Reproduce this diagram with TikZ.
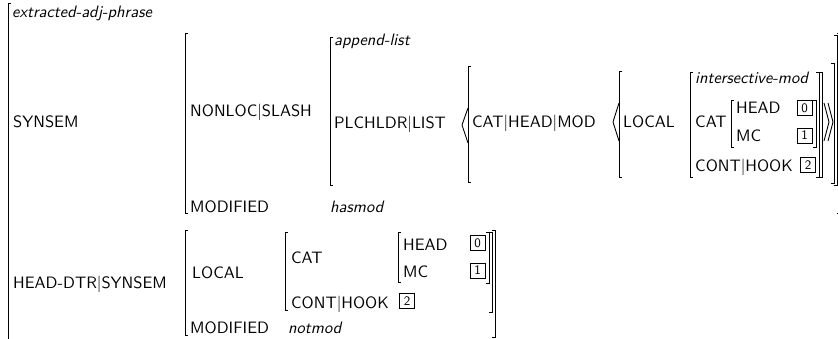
\documentclass[tikz,border=0pt]{standalone}
\usepackage{fontspec}
\newfontfamily\avmfont{lmsans10-regular.otf}[ItalicFont=lmsans10-oblique.otf]
\newcommand\avmL[3]{\draw[brk] (#1+3,#2) -- (#1,#2) -- (#1,#3) -- (#1+3,#3);}
\newcommand\avmR[3]{\draw[brk] (#1-3,#2) -- (#1,#2) -- (#1,#3) -- (#1-3,#3);}
\newcommand\avmLA[4]{\draw[brk] (#1+6,#2) -- (#1,#3) -- (#1+6,#4);}
\newcommand\avmRA[4]{\draw[brk] (#1-5,#2) -- (#1,#3) -- (#1-5,#4);}
\begin{document}
\begin{tikzpicture}[x=1pt,y=-1pt,
  lbl/.style={anchor=base west,inner sep=0pt,font=\avmfont\fontsize{16.5}{20}\selectfont},
  typ/.style={anchor=base west,inner sep=0pt,font=\avmfont\fontsize{16.5}{20}\selectfont\itshape},
  tagbox/.style={draw,line width=0.8pt,minimum size=15pt,inner sep=0pt,font=\avmfont\fontsize{13}{13}\selectfont},
  brk/.style={line width=0.9pt}]
\useasboundingbox (0,0) rectangle (838,339);
% ---------- labels (upper part) ----------
\node[typ] (ead) at (12,18) {extracted-adj-phrase};
\node[lbl] (synsem) at (13,128) {SYNSEM};
\node[lbl] (nonloc) at (190,117) {NONLOC\textbar SLASH};
\node[lbl] (mod1) at (190,213) {MODIFIED};
\node[typ] (hasmod) at (330,213) {hasmod};
\node[typ] (applist) at (334,46) {append-list};
\node[lbl] (plch) at (334,129) {PLCHLDR\textbar LIST};
\node[lbl] (chm) at (472,128) {CAT\textbar HEAD\textbar MOD};
\node[lbl] (loc1) at (623,128) {LOCAL};
\node[typ] (imod) at (695,84) {intersective-mod};
\node[lbl] (cat1) at (695,128) {CAT};
\node[lbl] (head1) at (736,114) {HEAD};
\node[lbl] (mc1) at (736,142) {MC};
\node[lbl] (ch1) at (695,172) {CONT\textbar HOOK};
\node[tagbox] (t0a) at (804.5,108) {0};
\node[tagbox] (t1a) at (804.5,135.5) {1};
\node[tagbox] (t2a) at (808,165) {2};
% ---------- labels (lower part) ----------
\node[lbl] (hd) at (13,288) {HEAD-DTR\textbar SYNSEM};
\node[lbl] (loc2) at (192,278) {LOCAL};
\node[lbl] (mod2) at (190,333) {MODIFIED};
\node[typ] (notmod) at (288,333) {notmod};
\node[lbl] (cat2) at (291,263) {CAT};
\node[lbl] (head2) at (403,251) {HEAD};
\node[lbl] (mc2) at (403,277) {MC};
\node[lbl] (ch2) at (291,308) {CONT\textbar HOOK};
\node[tagbox] (t0b) at (477.5,243) {0};
\node[tagbox] (t1b) at (477.5,270.5) {1};
\node[tagbox] (t2b) at (407,301) {2};
% ---------- brackets (upper) ----------
\avmL{8}{3}{345}
\avmL{185}{33}{213}
\avmR{840}{33}{213}
\avmL{330}{37}{185}
\avmR{837}{35}{185}
\avmLA{462}{108}{125}{143}
\avmL{468}{66}{182}
\avmR{834}{63}{183}
\avmLA{613}{103}{122}{141}
\avmL{619}{71}{177}
\avmR{822}{72}{177}
\avmL{690}{72}{177}
\avmR{819}{72}{177}
\avmL{731}{100}{147}
\avmR{816}{100}{147}
\avmRA{829}{103}{122}{141}
\avmRA{833}{103}{122}{141}
% ---------- brackets (lower) ----------
\avmL{185}{230}{335}
\avmR{495}{230}{337}
\avmL{285}{232}{310}
\avmR{492}{232}{312}
\avmL{398}{232}{282}
\avmR{489}{232}{283}
\end{tikzpicture}
\end{document}
